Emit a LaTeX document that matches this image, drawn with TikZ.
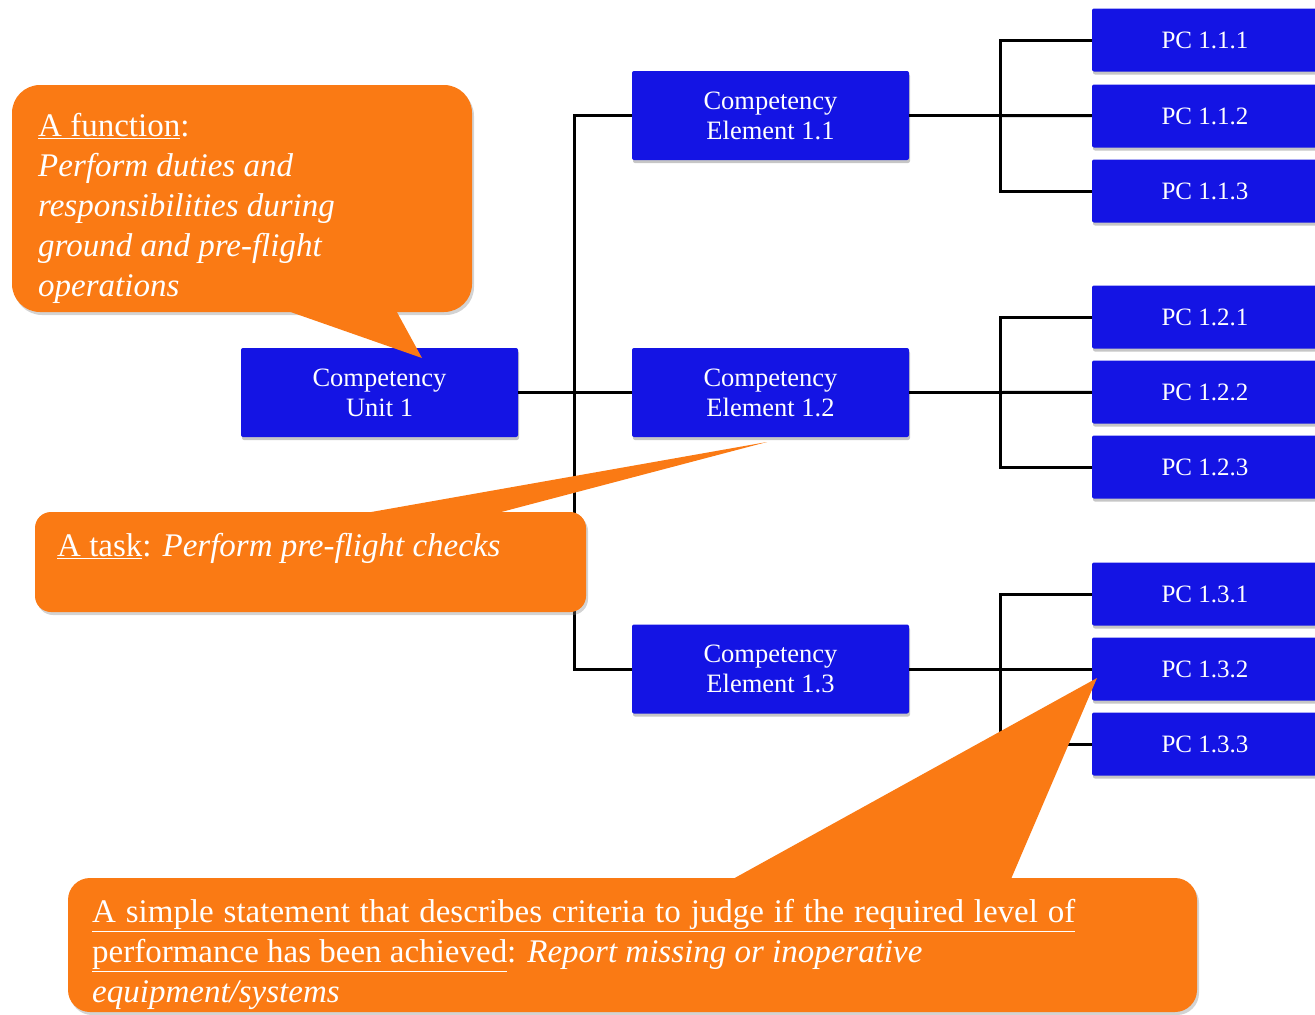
\documentclass[tikz,border=0pt]{standalone}
\usepackage{fontspec}
\setmainfont{Liberation Serif}
\usetikzlibrary{shadows}
\definecolor{boxblue}{RGB}{20,20,228}
\definecolor{callorange}{RGB}{250,122,20}
\begin{document}
\begin{tikzpicture}[x=1pt,y=-1pt,
    blk/.style={fill=boxblue, rounded corners=2pt, inner sep=0pt,
      minimum width=277pt, minimum height=89pt, align=center, text=white,
      font=\fontsize{26.5}{30}\selectfont,
      drop shadow={shadow xshift=1pt, shadow yshift=-3pt, opacity=0.45}},
    pc/.style={blk, minimum width=226pt, minimum height=63pt,
      font=\fontsize{25}{30}\selectfont},
    link/.style={line width=3pt, black},
    callbox/.style={fill=callorange, inner sep=0pt,
      drop shadow={shadow xshift=2pt, shadow yshift=-3pt, opacity=0.35}},
    calltip/.style={fill=callorange},
    calltext/.style={text=white, inner sep=0pt, align=left,
      font=\fontsize{33}{40}\selectfont}]
  \useasboundingbox (0,0) rectangle (1315,1015);
  % tree
  \node[blk] (u1) at (379.5,392.5) {Competency\\Unit 1};
  \node[blk] (e1) at (770.5,115.5) {Competency\\Element 1.1};
  \node[blk] (e2) at (770.5,392.5) {Competency\\Element 1.2};
  \node[blk] (e3) at (770.5,669) {Competency\\Element 1.3};
  \node[pc] (p111) at (1205,40) {PC 1.1.1};
  \node[pc] (p112) at (1205,116) {PC 1.1.2};
  \node[pc] (p113) at (1205,191) {PC 1.1.3};
  \node[pc] (p121) at (1205,317) {PC 1.2.1};
  \node[pc] (p122) at (1205,392) {PC 1.2.2};
  \node[pc] (p123) at (1205,467) {PC 1.2.3};
  \node[pc] (p131) at (1205,594) {PC 1.3.1};
  \node[pc] (p132) at (1205,669) {PC 1.3.2};
  \node[pc] (p133) at (1205,744) {PC 1.3.3};
  \coordinate (ju) at (574,392.5);
  \coordinate (j1) at (1000,115.5);
  \coordinate (j2) at (1000,392.5);
  \coordinate (j3) at (1000,669);
  \begin{scope}[link]
    \draw (u1) -- (ju);
    \draw (ju) |- (e1);
    \draw (ju) -- (e2);
    \draw (ju) |- (e3);
    \draw (e1) -- (j1);
    \draw (j1) |- (p111);
    \draw (j1) -- (p112);
    \draw (j1) |- (p113);
    \draw (e2) -- (j2);
    \draw (j2) |- (p121);
    \draw (j2) -- (p122);
    \draw (j2) |- (p123);
    \draw (e3) -- (j3);
    \draw (j3) |- (p131);
    \draw (j3) -- (p132);
    \draw (j3) |- (p133);
  \end{scope}
  % callouts
  \node[callbox, rounded corners=28pt, minimum width=460pt, minimum height=227pt] (fbox) at (242,198.5) {};
  \coordinate (ftip) at (422,358);
  \fill[calltip] ([xshift=268pt,yshift=4pt]fbox.south west) -- (ftip) -- ([xshift=383pt,yshift=4pt]fbox.south west) -- cycle;
  \node[calltext, anchor=north west] (ftxt) at (38,113)
    {\underline{A function}:\\ \textit{Perform duties and}\\ \textit{responsibilities during}\\
     \textit{ground and pre-flight}\\ \textit{operations}};

  \node[callbox, rounded corners=16pt, minimum width=551pt, minimum height=100pt] (tbox) at (310.5,562) {};
  \coordinate (ttip) at (767,442);
  \fill[calltip] ([xshift=315pt,yshift=-4pt]tbox.north west) -- (ttip) -- ([xshift=452pt,yshift=-4pt]tbox.north west) -- cycle;
  \node[calltext, anchor=north west] (ttxt) at (57,533)
    {\underline{A task}: \textit{Perform pre-flight checks}};

  \node[callbox, rounded corners=22pt, minimum width=1129pt, minimum height=134pt] (sbox) at (632.5,945) {};
  \coordinate (stip) at (1097,678);
  \fill[calltip] ([xshift=660pt,yshift=-4pt]sbox.north west) -- (stip) -- ([xshift=942pt,yshift=-4pt]sbox.north west) -- cycle;
  \node[calltext, anchor=north west] (stxt) at (92,899)
    {\underline{\makebox[983pt][s]{A simple statement that describes criteria to judge if the required level of}}\\
     \underline{performance has been achieved}: \textit{Report missing or inoperative}\\
     \textit{equipment/systems}};
\end{tikzpicture}
\end{document}
